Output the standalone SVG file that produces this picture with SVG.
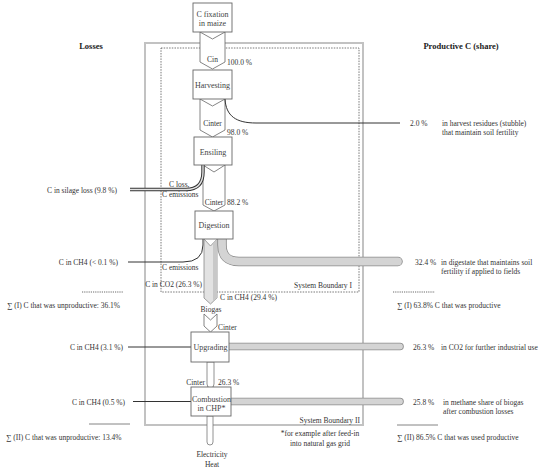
<svg xmlns="http://www.w3.org/2000/svg" width="550" height="470" viewBox="0 0 550 470">
<style>
text{font-family:"Liberation Serif","Times New Roman",serif;font-size:7.5px;fill:#333}
.h{font-size:8.5px;font-weight:bold;fill:#222}
.bx{font-size:8px;fill:#444}
.m{text-anchor:middle}
.e{text-anchor:end}
.box{fill:#fff;stroke:#666;stroke-width:0.9}
.chev{fill:#fff;stroke:#666;stroke-width:0.8}
.tube{fill:#fff;stroke:#777;stroke-width:0.8}
.bandO{fill:none;stroke:#8a8a8a;stroke-width:9.5;stroke-linecap:round}
.bandI{fill:none;stroke:#d4d4d4;stroke-width:7.8;stroke-linecap:round}
.bandO2{fill:none;stroke:#8a8a8a;stroke-width:7.5;stroke-linecap:round}
.bandI2{fill:none;stroke:#d4d4d4;stroke-width:5.8;stroke-linecap:round}
.ln{fill:none;stroke:#333;stroke-width:1}
</style>
<rect width="550" height="470" fill="#fff"/>
<g id="boundaries">
<rect x="145" y="43" width="218" height="382" fill="none" stroke="#c2c2c2" stroke-width="2"/>
<rect x="161" y="48" width="198" height="244" fill="none" stroke="#555" stroke-width="0.8" stroke-dasharray="1.5 1.2"/>
<text class="e" x="352" y="287.5">System Boundary I</text>
<text class="e" x="360" y="422.5">System Boundary II</text>
<text class="m" x="320" y="435.5">*for example after feed-in</text>
<text class="m" x="320" y="445.5">into natural gas grid</text>
</g>
<g id="connectors">
<polygon class="chev" points="200,32 212.5,39 225,32 225,62 212.5,69 200,62"/>
<polygon class="chev" points="200,99 212.5,106 225,99 225,130 212.5,137 200,130"/>
<polygon class="chev" points="203,165 214,172 225,165 225,205 214,211 203,205"/>
<path class="ln" d="M225,99 C226,116 236,123 256,123 L400,123" stroke-width="1.3" stroke="#222"/>
<path d="M130,189.5 L186,189.5 Q203,189.5 203,172 L203,165" fill="none" stroke="#333" stroke-width="3.4"/>
<path d="M130,189.5 L186,189.5 Q203,189.5 203,172 L203,165" fill="none" stroke="#e2e2e2" stroke-width="1.4"/>
<path class="ln" d="M128,262 L183,262 Q203,262 203,245 L203,239"/>
<path class="bandO" d="M222,238 L222,245 Q222,261.5 239,261.5 L398,261.5"/>
<path class="bandI" d="M222,238 L222,245 Q222,261.5 239,261.5 L398,261.5"/>
<polygon points="204,239 210.5,246 217,239 217,298 210.5,304 204,298" fill="#e2e2e2" stroke="#888" stroke-width="0.8"/>
<polygon points="213,243 217,239 217,298 213,302" fill="#c8c8c8"/>
<polygon class="chev" points="204,314 210.5,320 217,314 217,326 210.5,332 204,326"/>
<path class="ln" d="M128,347 L191,347"/>
<path class="bandO2" d="M229,346.5 L400,346.5"/>
<path class="bandI2" d="M229,346.5 L400,346.5"/>
<path class="tube" d="M207,362 L214,362 L214,384 Q214,388 210.5,388 Q207,388 207,384 Z"/>
<path class="ln" d="M133,401.5 L191,401.5"/>
<path class="bandO2" d="M231,401.5 L400,401.5"/>
<path class="bandI2" d="M231,401.5 L400,401.5"/>
<path class="tube" d="M207,416 L213,416 L213,442 Q213,445 210,445 Q207,445 207,442 Z"/>
<text class="m" x="212.5" y="62">Cin</text>
<text x="227" y="64.5">100.0 %</text>
<text class="m" x="212.5" y="125.5">Cinter</text>
<text x="227" y="134.5">98.0 %</text>
<text class="m" x="214" y="204.5">Cinter</text>
<text x="227" y="204.5">88.2 %</text>
<text x="169" y="186.5">C loss,</text>
<text x="162" y="196.5">C emissions</text>
<text x="162" y="269.5">C emissions</text>
<text class="e" x="202" y="287">C in CO2 (26.3 %)</text>
<text x="220" y="300">C in CH4 (29.4 %)</text>
<text class="m" x="211" y="311.5">Biogas</text>
<text x="218" y="329.5">Cinter</text>
<text class="e" x="205" y="384.5">Cinter</text>
<text x="218" y="384.5">26.3 %</text>
<text class="m" x="212" y="456.5">Electricity</text>
<text class="m" x="212" y="466.5">Heat</text>
</g>
<g id="n-fixation">
<rect class="box" x="193" y="3" width="39" height="29"/>
<text class="bx m" x="212.5" y="16.5">C fixation</text>
<text class="bx m" x="212.5" y="26">in maize</text>
</g>
<g id="n-harvesting">
<rect class="box" x="193" y="70" width="39" height="29"/>
<text class="bx m" x="212.5" y="87.5">Harvesting</text>
</g>
<g id="n-ensiling">
<rect class="box" x="194" y="137" width="38" height="28"/>
<text class="bx m" x="213" y="154.5">Ensiling</text>
</g>
<g id="n-digestion">
<rect class="box" x="195" y="211" width="38" height="28"/>
<text class="bx m" x="214" y="227.5">Digestion</text>
</g>
<g id="n-upgrading">
<rect class="box" x="191" y="332" width="38" height="30"/>
<text class="bx m" x="210.5" y="349.5">Upgrading</text>
</g>
<g id="n-combustion">
<rect class="box" x="191" y="387" width="40" height="29"/>
<text class="bx m" x="211.5" y="401.5">Combustion</text>
<text class="bx m" x="211.5" y="410.5">in CHP*</text>
</g>
<g id="losses">
<text class="h m" x="91" y="49">Losses</text>
<text class="e" x="117" y="192.5">C in silage loss (9.8 %)</text>
<text class="e" x="118" y="264.5">C in CH4 (&lt; 0.1 %)</text>
<line x1="82" y1="292" x2="123" y2="292" stroke="#444" stroke-width="0.8" stroke-dasharray="1.2 1"/>
<text x="7" y="307.5"><tspan text-decoration="underline">∑</tspan> (I) C that was unproductive: 36.1%</text>
<text class="e" x="123" y="349.5">C in CH4 (3.1 %)</text>
<text class="e" x="125" y="404.5">C in CH4 (0.5 %)</text>
<line x1="89" y1="424" x2="130" y2="424" stroke="#666" stroke-width="0.8"/>
<text x="6" y="439.5"><tspan text-decoration="underline">∑</tspan> (II) C that was unproductive: 13.4%</text>
</g>
<g id="productive">
<text class="h m" x="461" y="49">Productive C (share)</text>
<text x="410" y="125.5">2.0 %</text>
<text x="442" y="125.5">in harvest residues (stubble)</text>
<text x="442" y="135">that maintain soil fertility</text>
<text x="415" y="264.5">32.4 %</text>
<text x="441" y="264.5">in digestate that maintains soil</text>
<text x="441" y="274">fertility if applied to fields</text>
<line x1="393" y1="292" x2="435" y2="292" stroke="#444" stroke-width="0.8" stroke-dasharray="1.2 1"/>
<text x="397" y="308"><tspan text-decoration="underline">∑</tspan> (I) 63.8% C that was productive</text>
<text x="413" y="349.5">26.3 %</text>
<text x="441" y="349.5">in CO2 for further industrial use</text>
<text x="413" y="404.5">25.8 %</text>
<text x="443" y="404.5">in methane share of biogas</text>
<text x="443" y="414">after combustion losses</text>
<line x1="397" y1="425" x2="438" y2="425" stroke="#666" stroke-width="0.8"/>
<text x="397" y="439.5"><tspan text-decoration="underline">∑</tspan> (II) 86.5% C that was used productive</text>
</g>
</svg>
